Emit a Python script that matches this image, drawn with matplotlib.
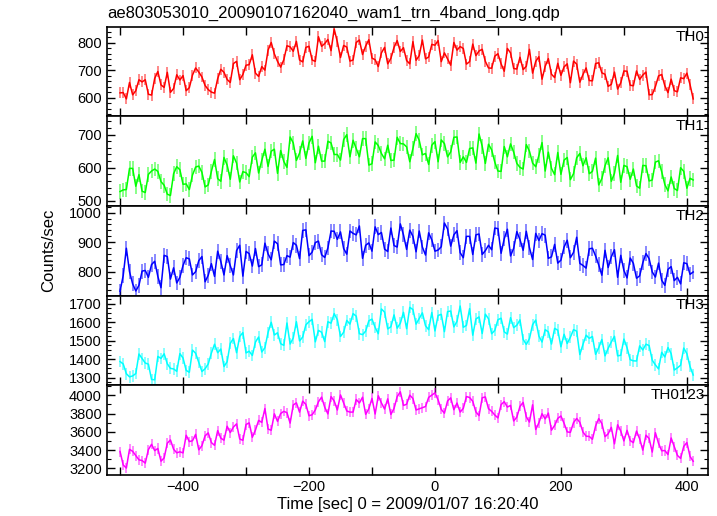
import matplotlib
matplotlib.use('Agg')
import matplotlib.pyplot as plt
import numpy as np
from matplotlib.ticker import MultipleLocator, FuncFormatter

plt.rcParams['font.family'] = ['Liberation Sans', 'DejaVu Sans']

# bins at -500,-490,...,410 (a) and -495,-485,...,405 (b), sec
time_a = np.arange(-500, 415, 10)
time_b = np.arange(-495, 410, 10)

th0_a = [617, 595, 610, 665, 665, 609, 695, 637, 619, 683, 680, 636, 708, 675, 629, 616, 703, 666, 724, 665,
         718, 756, 677, 700, 801, 732, 738, 785, 805, 730, 787, 732, 787, 812, 850, 746, 784, 737, 810, 788,
         744, 713, 783, 743, 808, 782, 723, 736, 810, 748, 791, 731, 741, 801, 786, 722, 795, 770, 732, 707,
         760, 696, 763, 704, 702, 776, 732, 667, 742, 673, 681, 723, 733, 656, 708, 661, 727, 685, 648, 631,
         697, 645, 697, 682, 610, 640, 684, 618, 625, 672, 689, 595]
th0_b = [618, 655, 625, 657, 612, 670, 646, 692, 633, 664, 625, 682, 693, 644, 620, 669, 692, 655, 732, 684,
         720, 689, 713, 773, 759, 711, 789, 769, 737, 783, 737, 822, 797, 771, 803, 790, 733, 801, 757, 811,
         738, 763, 723, 783, 768, 735, 804, 753, 741, 794, 808, 763, 718, 773, 779, 731, 753, 776, 708, 751,
         723, 779, 706, 747, 714, 689, 749, 714, 685, 725, 712, 654, 722, 684, 662, 724, 690, 641, 693, 654,
         696, 643, 666, 693, 611, 679, 643, 667, 621, 669, 647]

th1_a = [528, 534, 598, 579, 525, 590, 589, 547, 516, 603, 550, 534, 602, 586, 548, 625, 559, 608, 636, 557,
         585, 632, 584, 656, 650, 583, 619, 693, 622, 681, 675, 615, 620, 680, 640, 623, 700, 683, 633, 688,
         612, 667, 627, 622, 692, 672, 618, 703, 639, 610, 679, 684, 633, 692, 616, 616, 660, 702, 613, 654,
         590, 664, 672, 613, 596, 650, 603, 676, 647, 579, 580, 631, 582, 643, 630, 589, 548, 606, 559, 637,
         607, 565, 545, 607, 560, 617, 588, 530, 537, 600, 538, 563]
th1_b = [533, 598, 544, 529, 580, 596, 558, 520, 582, 594, 551, 578, 605, 542, 589, 567, 631, 565, 614, 588,
         573, 645, 622, 604, 656, 652, 601, 675, 644, 628, 695, 665, 620, 675, 640, 685, 633, 658, 688, 608,
         678, 643, 668, 623, 673, 663, 658, 683, 643, 668, 618, 673, 648, 693, 633, 658, 614, 665, 671, 617,
         589, 633, 647, 601, 670, 614, 637, 590, 598, 646, 623, 564, 630, 606, 582, 629, 567, 630, 583, 556,
         603, 596, 538, 606, 563, 621, 549, 572, 531, 589, 568]

th2_a = [735, 880, 760, 755, 805, 825, 785, 856, 776, 763, 822, 844, 801, 852, 789, 785, 835, 855, 790, 890,
         869, 820, 818, 897, 841, 895, 825, 850, 890, 940, 855, 899, 858, 881, 937, 935, 860, 930, 955, 890,
         870, 926, 877, 948, 884, 925, 941, 868, 884, 932, 870, 885, 945, 925, 865, 920, 859, 928, 872, 875,
         946, 912, 854, 936, 873, 882, 930, 929, 846, 893, 840, 907, 866, 829, 813, 880, 824, 873, 851, 782,
         805, 847, 779, 831, 845, 783, 772, 809, 771, 760, 828, 800]
th2_b = [788, 801, 736, 803, 782, 836, 747, 852, 814, 782, 848, 790, 838, 767, 828, 870, 790, 821, 872, 786,
         862, 879, 824, 861, 904, 824, 855, 899, 845, 942, 867, 904, 849, 938, 910, 879, 938, 925, 846, 898,
         952, 933, 869, 889, 962, 876, 920, 938, 857, 908, 874, 965, 887, 939, 848, 920, 925, 859, 890, 948,
         863, 944, 880, 909, 937, 842, 906, 924, 851, 830, 884, 848, 917, 822, 878, 854, 789, 815, 875, 856,
         780, 829, 787, 862, 800, 830, 755, 818, 782, 831, 792]

th3_a = [1387, 1321, 1309, 1428, 1379, 1290, 1415, 1429, 1350, 1334, 1406, 1329, 1432, 1333, 1374, 1481, 1455, 1386, 1512, 1523,
         1434, 1420, 1520, 1462, 1600, 1543, 1475, 1482, 1603, 1520, 1603, 1494, 1546, 1603, 1647, 1523, 1610, 1647, 1538, 1552,
         1617, 1538, 1655, 1576, 1568, 1654, 1681, 1590, 1651, 1560, 1553, 1643, 1658, 1575, 1688, 1583, 1530, 1629, 1644, 1538,
         1614, 1548, 1625, 1584, 1507, 1511, 1612, 1493, 1548, 1567, 1467, 1485, 1560, 1425, 1530, 1523, 1462, 1418, 1493, 1418,
         1509, 1397, 1390, 1450, 1474, 1369, 1437, 1463, 1341, 1367, 1430, 1314]
th3_b = [1374, 1304, 1322, 1403, 1373, 1288, 1404, 1375, 1347, 1430, 1339, 1449, 1382, 1348, 1433, 1435, 1360, 1486, 1435, 1544,
         1443, 1493, 1439, 1545, 1531, 1484, 1596, 1515, 1499, 1586, 1616, 1556, 1495, 1595, 1614, 1546, 1590, 1633, 1533, 1608,
         1572, 1672, 1564, 1640, 1595, 1565, 1669, 1621, 1581, 1653, 1637, 1549, 1661, 1605, 1573, 1674, 1618, 1539, 1619, 1556,
         1622, 1536, 1571, 1613, 1480, 1587, 1525, 1560, 1482, 1557, 1535, 1519, 1552, 1480, 1513, 1426, 1507, 1459, 1524, 1421,
         1462, 1391, 1472, 1481, 1394, 1347, 1412, 1430, 1353, 1460, 1360]

th0123_a = [3384, 3203, 3386, 3293, 3257, 3463, 3417, 3314, 3511, 3370, 3369, 3493, 3572, 3448, 3588, 3452, 3530, 3661, 3652, 3521,
            3680, 3540, 3725, 3855, 3617, 3714, 3824, 3695, 3917, 3936, 3776, 3839, 3980, 3796, 3937, 4004, 3828, 3816, 3916, 3791,
            3966, 3995, 3849, 3790, 3985, 3889, 4002, 3839, 3864, 3977, 4027, 3845, 3938, 3842, 3816, 3986, 3934, 3777, 3982, 3824,
            3752, 3930, 3889, 3761, 3922, 3707, 3625, 3798, 3805, 3670, 3773, 3599, 3701, 3704, 3552, 3518, 3745, 3546, 3649, 3677,
            3500, 3504, 3608, 3399, 3527, 3590, 3392, 3351, 3436, 3309, 3482, 3277]
th0123_b = [3237, 3408, 3340, 3285, 3405, 3394, 3278, 3475, 3409, 3381, 3562, 3502, 3403, 3556, 3482, 3613, 3508, 3592, 3687, 3507,
            3698, 3620, 3703, 3630, 3797, 3800, 3810, 3894, 3815, 3900, 3787, 3929, 3869, 3986, 3839, 3916, 3816, 3954, 3979, 3853,
            3795, 3916, 3961, 3856, 4038, 3902, 3965, 3852, 3877, 4002, 3949, 3804, 3972, 3915, 3857, 3976, 3818, 3973, 3853, 3784,
            3898, 3871, 3719, 3879, 3765, 3896, 3699, 3741, 3618, 3747, 3693, 3594, 3746, 3597, 3549, 3663, 3690, 3578, 3468, 3608,
            3616, 3481, 3523, 3563, 3378, 3473, 3395, 3532, 3341, 3440, 3330]

names = ['TH0', 'TH1', 'TH2', 'TH3', 'TH0123']
errs = [20, 22, 25, 32, 55]
ylims = [(531, 858), (484, 755), (720, 1022), (1258, 1744), (3127, 4109)]
ymajor = [100, 100, 100, 100, 200]
yminor = [20, 20, 20, 25, 100]
colors = ['#ff0000', '#00ff00', '#0000ff', '#00ffff', '#ff00ff']
series = [(th0_a, th0_b), (th1_a, th1_b), (th2_a, th2_b), (th3_a, th3_b), (th0123_a, th0123_b)]

t_all = np.concatenate([time_a, time_b])
order = np.argsort(t_all)
time = t_all[order]


def xfmt(v, p):
    # label only every 200 s
    if int(round(v)) % 200 != 0:
        return ''
    return ('%d' % v).replace('-', '\u2212')


fig = plt.figure(figsize=(7.17, 5.16), dpi=100)
top, bottom = 0.948, 0.0795
h = (top - bottom) / 5
for i in range(5):
    ax = fig.add_axes([0.149, top - (i + 1) * h, 0.838, h])
    y = np.concatenate([series[i][0], series[i][1]])[order]
    # error bars (lighter) then the curve
    ax.errorbar(time, y, yerr=errs[i], fmt='none', ecolor=colors[i], alpha=0.5, elinewidth=1.3)
    ax.plot(time, y, color=colors[i], lw=1.1)
    ax.set_xlim(-521, 433)
    ax.set_ylim(*ylims[i])
    ax.xaxis.set_major_locator(MultipleLocator(100))
    ax.yaxis.set_major_locator(MultipleLocator(ymajor[i]))
    ax.yaxis.set_minor_locator(MultipleLocator(yminor[i]))
    ax.tick_params(which='both', direction='in', top=True, right=True, labelsize=10.5)
    ax.tick_params(which='major', length=6, width=1)
    ax.tick_params(which='minor', length=3, width=0.8)
    for s in ax.spines.values():
        s.set_linewidth(1.2)
    ax.text(0.995, 0.97, names[i], transform=ax.transAxes, ha='right', va='top', fontsize=11)
    if i < 4:
        ax.tick_params(labelbottom=False)
    else:
        ax.xaxis.set_major_formatter(FuncFormatter(xfmt))
        ax.set_xlabel('Time [sec] 0 = 2009/01/07 16:20:40', fontsize=12, labelpad=2)

fig.text(0.149, 0.988, 'ae803053010_20090107162040_wam1_trn_4band_long.qdp', ha='left', va='top', fontsize=12)
fig.text(0.068, 0.515, 'Counts/sec', rotation=90, ha='center', va='center', fontsize=12)

plt.savefig('out.png', dpi=100)
